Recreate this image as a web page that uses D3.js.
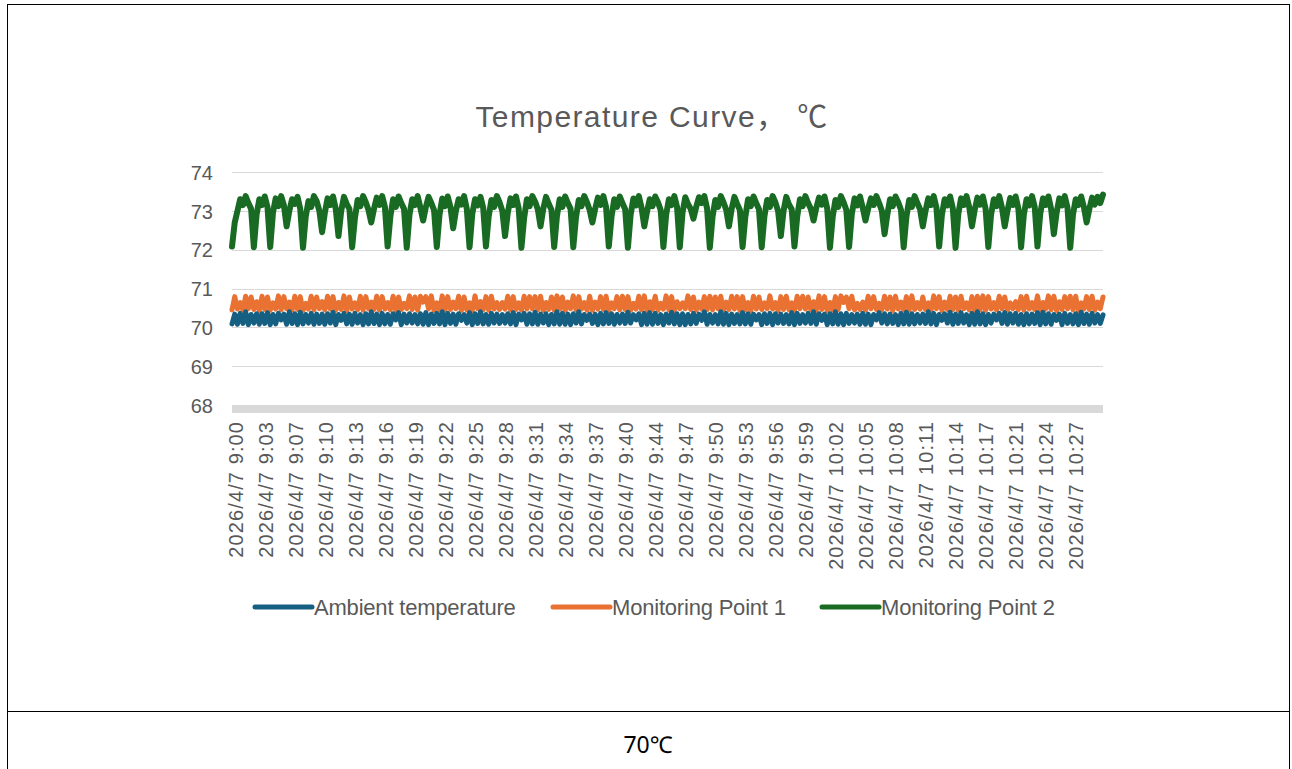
<!DOCTYPE html>
<html>
<head>
<meta charset="utf-8">
<script src="https://cdn.jsdelivr.net/npm/d3@7/dist/d3.min.js"></script>
<style>
  html, body { margin: 0; padding: 0; background: #fff; }
  svg { display: block; }
</style>
</head>
<body>
<svg id="chart" width="1292" height="769"></svg>
<script>
// ---------------- DATA ----------------
const chartTitle = "Temperature Curve， ℃";
const cellText = "70℃";
const seriesNames = ["Ambient temperature", "Monitoring Point 1", "Monitoring Point 2"];
const seriesColors = ["#156082", "#E97132", "#196B24"];
const yTicks = [68, 69, 70, 71, 72, 73, 74];
const timeLabels = [
  "2026/4/7 9:00", "2026/4/7 9:03", "2026/4/7 9:07", "2026/4/7 9:10", "2026/4/7 9:13",
  "2026/4/7 9:16", "2026/4/7 9:19", "2026/4/7 9:22", "2026/4/7 9:25", "2026/4/7 9:28",
  "2026/4/7 9:31", "2026/4/7 9:34", "2026/4/7 9:37", "2026/4/7 9:40", "2026/4/7 9:44",
  "2026/4/7 9:47", "2026/4/7 9:50", "2026/4/7 9:53", "2026/4/7 9:56", "2026/4/7 9:59",
  "2026/4/7 10:02", "2026/4/7 10:05", "2026/4/7 10:08", "2026/4/7 10:11", "2026/4/7 10:14",
  "2026/4/7 10:17", "2026/4/7 10:21", "2026/4/7 10:24", "2026/4/7 10:27"
];
const labelStep = 11; // one time label every 11 samples

const ambient = [
  70.09,70.34,70.08,70.36,70.1,70.4,70.07,70.33,70.11,70.35,70.08,
  70.35,70.1,70.38,70.07,70.33,70.09,70.36,70.19,70.34,70.08,70.4,
  70.1,70.35,70.07,70.39,70.09,70.33,70.11,70.36,70.08,70.34,70.1,
  70.34,70.08,70.35,70.11,70.39,70.07,70.33,70.18,70.36,70.09,70.34,
  70.08,70.36,70.11,70.33,70.07,70.35,70.09,70.4,70.1,70.34,70.07,
  70.36,70.09,70.33,70.08,70.35,70.19,70.38,70.07,70.34,70.11,70.35,
  70.11,70.33,70.09,70.35,70.08,70.38,70.07,70.34,70.1,70.36,70.09,
  70.4,70.07,70.36,70.1,70.34,70.08,70.35,70.18,70.33,70.11,70.38,
  70.07,70.35,70.1,70.4,70.09,70.33,70.08,70.36,70.11,70.34,70.1,
  70.33,70.11,70.35,70.09,70.38,70.07,70.34,70.19,70.36,70.08,70.35,
  70.09,70.39,70.08,70.34,70.11,70.35,70.07,70.33,70.09,70.4,70.08,
  70.36,70.08,70.34,70.07,70.35,70.11,70.4,70.09,70.33,70.18,70.34,
  70.1,70.34,70.07,70.36,70.09,70.38,70.1,70.35,70.08,70.33,70.11,
  70.34,70.1,70.39,70.11,70.33,70.19,70.35,70.07,70.36,70.08,70.38,
  70.08,70.36,70.1,70.33,70.07,70.34,70.11,70.39,70.09,70.35,70.07,
  70.35,70.07,70.33,70.09,70.36,70.1,70.34,70.18,70.4,70.08,70.33,
  70.11,70.33,70.09,70.4,70.08,70.36,70.07,70.34,70.1,70.33,70.09,
  70.38,70.09,70.35,70.08,70.34,70.19,70.33,70.07,70.35,70.1,70.36,
  70.07,70.35,70.11,70.34,70.1,70.33,70.09,70.38,70.07,70.36,70.1,
  70.33,70.11,70.36,70.1,70.4,70.08,70.35,70.18,70.34,70.07,70.35,
  70.09,70.4,70.08,70.35,70.07,70.36,70.1,70.33,70.11,70.34,70.08,
  70.36,70.08,70.34,70.07,70.33,70.19,70.38,70.11,70.35,70.09,70.34,
  70.1,70.33,70.07,70.36,70.09,70.39,70.08,70.35,70.09,70.33,70.11,
  70.34,70.1,70.4,70.09,70.36,70.07,70.33,70.18,70.35,70.11,70.39,
  70.08,70.34,70.1,70.38,70.11,70.33,70.07,70.36,70.08,70.4,70.09,
  70.35,70.07,70.33,70.11,70.34,70.19,70.36,70.1,70.38,70.08,70.35,
  70.11,70.36,70.08,70.33,70.07,70.35,70.09,70.34,70.1,70.38,70.07,
  70.39,70.09,70.35,70.08,70.33,70.18,70.34,70.07,70.36,70.1,70.33,
  70.09,70.35,70.07,70.39,70.1,70.34,70.08,70.36,70.11,70.33,70.1,
  70.32
];

const point1 = [
  70.45,70.79,70.47,70.64,70.44,70.8,70.48,70.78,70.46,70.66,70.43,
  70.8,70.46,70.78,70.44,70.63,70.47,70.81,70.45,70.79,70.48,70.65,
  70.44,70.8,70.46,70.79,70.43,70.62,70.47,70.8,70.45,70.78,70.48,
  70.66,70.45,70.8,70.47,70.79,70.44,70.64,70.46,70.81,70.43,70.78,
  70.47,70.63,70.45,70.8,70.44,70.79,70.48,70.65,70.46,70.8,70.44,
  70.79,70.47,70.64,70.45,70.8,70.43,70.78,70.46,70.62,70.48,70.81,
  70.46,70.78,70.44,70.8,70.65,70.79,70.47,70.81,70.43,70.63,70.45,
  70.81,70.44,70.79,70.46,70.65,70.48,70.8,70.43,70.78,70.45,70.63,
  70.43,70.81,70.48,70.66,70.45,70.79,70.44,70.8,70.47,70.64,70.46,
  70.64,70.47,70.8,70.45,70.79,70.46,70.63,70.44,70.8,70.47,70.79,
  70.48,70.79,70.45,70.8,70.43,70.64,70.46,70.78,70.44,70.81,70.47,
  70.78,70.43,70.65,70.48,70.81,70.45,70.79,70.47,70.64,70.44,70.8,
  70.44,70.65,70.47,70.79,70.46,70.8,70.43,70.63,70.48,70.79,70.45,
  70.8,70.46,70.79,70.44,70.62,70.47,70.8,70.45,70.81,70.43,70.66,
  70.46,70.8,70.44,70.62,70.47,70.81,70.45,70.79,70.43,70.66,70.48,
  70.63,70.48,70.81,70.46,70.78,70.44,70.65,70.47,70.79,70.45,70.8,
  70.45,70.78,70.48,70.8,70.44,70.65,70.46,70.8,70.47,70.79,70.43,
  70.79,70.45,70.64,70.43,70.8,70.47,70.78,70.46,70.63,70.48,70.81,
  70.47,70.64,70.43,70.79,70.46,70.8,70.45,70.63,70.44,70.8,70.48,
  70.8,70.47,70.78,70.45,70.66,70.44,70.81,70.46,70.79,70.43,70.64,
  70.44,70.79,70.46,70.81,70.64,70.78,70.48,70.8,70.45,70.62,70.46,
  70.65,70.44,70.8,70.48,70.79,70.46,70.62,70.45,70.8,70.47,70.78,
  70.43,70.8,70.47,70.65,70.45,70.79,70.44,70.81,70.46,70.64,70.47,
  70.78,70.46,70.63,70.44,70.81,70.48,70.79,70.43,70.65,70.46,70.8,
  70.46,70.78,70.44,70.8,70.48,70.63,70.45,70.79,70.43,70.8,70.45,
  70.81,70.43,70.79,70.47,70.64,70.45,70.8,70.48,70.78,70.44,70.63,
  70.48,70.66,70.45,70.79,70.44,70.8,70.47,70.64,70.46,70.81,70.44,
  70.64,70.47,70.81,70.45,70.8,70.43,70.66,70.46,70.79,70.48,70.8,
  70.45,70.8,70.43,70.63,70.47,70.79,70.46,70.8,70.44,70.65,70.48,
  70.78
];

const point2 = [
  72.08,72.7,73.0,73.3,73.15,73.38,73.2,73.05,
  72.06,72.9,73.3,73.15,73.37,73.1,
  72.07,72.95,73.32,73.12,73.38,73.15,
  72.6,73.0,73.3,73.18,73.36,73.05,
  72.05,72.85,73.25,73.1,73.38,73.25,73.0,
  72.45,72.95,73.32,73.15,73.37,73.05,
  72.35,73.0,73.36,73.18,73.05,
  72.06,72.8,73.28,73.12,73.38,73.22,73.02,
  72.7,73.05,73.34,73.15,73.38,73.1,
  72.08,72.85,73.3,73.1,73.37,73.2,73.05,
  72.05,72.9,73.3,73.15,73.38,73.08,
  72.75,73.1,73.36,73.2,73.02,
  72.07,72.9,73.32,73.12,73.37,73.1,
  72.55,73.0,73.3,73.16,73.38,73.05,
  72.06,72.92,73.3,73.14,73.36,73.08,
  72.08,72.85,73.28,73.1,73.38,73.22,73.0,
  72.35,72.95,73.32,73.15,73.37,73.06,
  72.05,72.82,73.3,73.12,73.38,73.24,73.04,
  72.6,73.05,73.36,73.18,73.03,
  72.07,72.86,73.3,73.1,73.37,73.2,73.05,
  72.06,72.84,73.28,73.12,73.38,73.22,73.02,
  72.7,73.05,73.34,73.15,73.38,73.1,
  72.08,72.85,73.3,73.1,73.37,73.2,73.04,
  72.05,72.9,73.32,73.14,73.38,73.08,
  72.6,72.98,73.3,73.12,73.37,73.22,73.02,
  72.07,72.9,73.3,73.15,73.38,73.1,
  72.06,72.95,73.35,73.18,73.05,
  72.8,73.1,73.35,73.2,73.38,73.06,
  72.05,72.85,73.28,73.1,73.38,73.22,73.03,
  72.6,73.05,73.36,73.18,73.02,
  72.07,72.84,73.3,73.12,73.37,73.2,73.04,
  72.06,72.86,73.28,73.1,73.38,73.22,73.0,
  72.35,73.0,73.36,73.16,73.04,
  72.08,72.85,73.3,73.12,73.38,73.2,73.05,
  72.75,73.08,73.34,73.16,73.37,73.06,
  72.05,72.84,73.28,73.1,73.38,73.22,73.02,
  72.07,72.92,73.32,73.14,73.37,73.08,
  72.75,73.06,73.32,73.15,73.38,73.2,73.0,
  72.4,72.9,73.3,73.12,73.37,73.22,73.03,
  72.06,72.85,73.28,73.1,73.38,73.2,73.04,
  72.6,73.0,73.32,73.15,73.38,73.08,
  72.08,72.9,73.3,73.14,73.37,73.06,
  72.05,72.92,73.32,73.15,73.38,73.1,
  72.6,73.02,73.34,73.16,73.37,73.05,
  72.07,72.9,73.3,73.12,73.38,73.08,
  72.6,73.0,73.33,73.15,73.37,73.06,
  72.06,72.9,73.3,73.14,73.38,73.1,
  72.08,72.92,73.32,73.15,73.37,73.05,
  72.4,72.95,73.32,73.14,73.38,73.08,
  72.05,72.9,73.3,73.15,73.37,73.1,
  72.7,73.05,73.34,73.16,73.36,73.2,73.42
];

const seriesData = [ambient, point1, point2];

// ---------------- LAYOUT ----------------
const svg = d3.select("#chart");
const plot = { left: 232, right: 1103, top: 172, bottom: 405 };
const textColor = "#595959";
const gridColor = "#d9d9d9";

// table borders
svg.append("rect").attr("x", 7.5).attr("y", 4.5).attr("width", 1282).attr("height", 800)
  .attr("fill", "none").attr("stroke", "#000").attr("stroke-width", 1);
svg.append("line").attr("x1", 7.5).attr("x2", 1289.5).attr("y1", 711.5).attr("y2", 711.5)
  .attr("stroke", "#000").attr("stroke-width", 1);
svg.append("text").attr("x", 648).attr("y", 753).attr("text-anchor", "middle")
  .attr("font-family", "'Noto Sans', 'Noto Sans CJK SC', sans-serif").attr("font-size", 23)
  .attr("fill", "#000").text(cellText);

// title
svg.append("text").attr("x", 652).attr("y", 127).attr("text-anchor", "middle")
  .attr("font-family", "'Liberation Sans', Arial, 'Noto Sans CJK SC', sans-serif")
  .attr("font-size", 30).attr("letter-spacing", 1.4).attr("fill", textColor).text(chartTitle);

const nPts = point2.length;
const x = d3.scaleLinear().domain([0, nPts - 1]).range([plot.left, plot.right]);
const y = d3.scaleLinear().domain([68, 74]).range([plot.bottom, plot.top]);

// gridlines
svg.append("g").selectAll("line").data(yTicks.filter(v => v > 68)).join("line")
  .attr("x1", plot.left).attr("x2", plot.right)
  .attr("y1", d => Math.round(y(d)) + 0.5).attr("y2", d => Math.round(y(d)) + 0.5)
  .attr("stroke", gridColor).attr("stroke-width", 1);
// thick horizontal axis line at the minimum
svg.append("line").attr("x1", plot.left).attr("x2", plot.right)
  .attr("y1", y(68) + 4).attr("y2", y(68) + 4)
  .attr("stroke", gridColor).attr("stroke-width", 8);

// y axis labels
const yAxis = d3.axisLeft(y).tickValues(yTicks).tickSize(0).tickPadding(0).tickFormat(d3.format("d"));
const gy = svg.append("g").attr("transform", `translate(${213},0)`).call(yAxis);
gy.select(".domain").remove();
gy.selectAll("text").attr("font-family", "'Liberation Sans', Arial, sans-serif")
  .attr("font-size", 20).attr("fill", textColor).attr("dy", "0.36em");

// x axis labels
const tickIdx = timeLabels.map((_, i) => i * labelStep);
const xAxis = d3.axisBottom(x).tickValues(tickIdx).tickSize(0).tickPadding(0)
  .tickFormat((d, i) => timeLabels[i]);
const gx = svg.append("g").attr("transform", `translate(0,${421})`).call(xAxis);
gx.select(".domain").remove();
gx.selectAll("text")
  .attr("font-family", "'Liberation Sans', Arial, sans-serif")
  .attr("font-size", 20).attr("letter-spacing", 1.1).attr("fill", textColor)
  .attr("text-anchor", "end").attr("transform", "rotate(-90)")
  .attr("x", 0).attr("y", 0).attr("dy", "0.5em");

// lines
const line = d3.line().x((d, i) => x(i)).y(d => y(d));
const drawOrder = [2, 1, 0];
svg.append("g").selectAll("path").data(drawOrder).join("path")
  .attr("d", k => line(seriesData[k]))
  .attr("fill", "none").attr("stroke", k => seriesColors[k])
  .attr("stroke-width", k => k === 2 ? 6 : 5)
  .attr("stroke-linejoin", "round").attr("stroke-linecap", "round");

// legend
const legendItems = [
  { x: 255, w: 57 }, { x: 553, w: 57 }, { x: 822, w: 57 }
];
const lg = svg.append("g");
seriesNames.forEach((name, k) => {
  const it = legendItems[k];
  lg.append("line").attr("x1", it.x).attr("x2", it.x + it.w).attr("y1", 607).attr("y2", 607)
    .attr("stroke", seriesColors[k]).attr("stroke-width", 5).attr("stroke-linecap", "round");
  lg.append("text").attr("x", it.x + it.w + 2).attr("y", 607).attr("dy", "0.36em")
    .attr("font-family", "'Liberation Sans', Arial, sans-serif").attr("font-size", 22)
    .attr("letter-spacing", -0.2).attr("fill", textColor).text(name);
});
</script>
</body>
</html>
